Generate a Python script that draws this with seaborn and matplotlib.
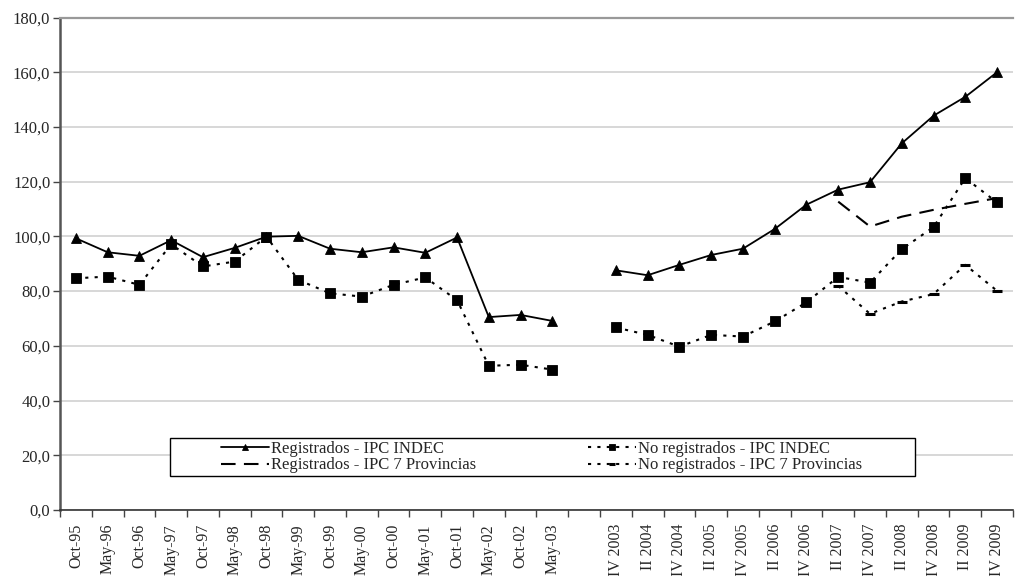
import numpy as np
import pandas as pd
import matplotlib
matplotlib.use("Agg")
import matplotlib.pyplot as plt
from matplotlib.patches import Rectangle
from matplotlib.ticker import FixedLocator, FuncFormatter
import seaborn as sns

# Period labels (the blank slot separates the two survey periods)
periodos = ["Oct-95", "May-96", "Oct-96", "May-97", "Oct-97", "May-98", "Oct-98",
            "May-99", "Oct-99", "May-00", "Oct-00", "May-01", "Oct-01", "May-02",
            "Oct-02", "May-03", "",
            "IV 2003", "II 2004", "IV 2004", "II 2005", "IV 2005", "II 2006",
            "IV 2006", "II 2007", "IV 2007", "II 2008", "IV 2008", "II 2009", "IV 2009"]

nan = np.nan
registrados_indec = [99.3, 94.2, 92.9, 98.6, 92.4, 95.8, 99.9, 100.2, 95.5, 94.2, 96.0,
                     94.0, 99.6, 70.5, 71.3, 69.1, nan,
                     87.6, 85.8, 89.6, 93.2, 95.5, 102.7, 111.6, 117.1, 119.8,
                     134.0, 144.1, 151.0, 160.0]
no_registrados_indec = [84.7, 85.3, 82.3, 97.1, 89.0, 90.8, 99.9, 84.1, 79.2, 78.0, 82.3,
                        85.0, 76.7, 52.7, 53.1, 51.3, nan,
                        66.7, 64.0, 59.7, 64.0, 63.4, 68.9, 75.9, 85.2, 83.1,
                        95.3, 103.4, 121.3, 112.4]
registrados_7prov = [nan] * 24 + [112.7, 103.6, 107.2, 109.7, 111.9, 114.0]
no_registrados_7prov = [nan] * 24 + [81.9, 71.7, 76.2, 78.9, 89.6, 80.1]

series = {
    "Registrados - IPC INDEC": registrados_indec,
    "Registrados - IPC 7 Provincias": registrados_7prov,
    "No registrados - IPC INDEC": no_registrados_indec,
    "No registrados - IPC 7 Provincias": no_registrados_7prov,
}

pos = np.arange(len(periodos))
tramo = np.where(pos < 16, 0, 1)
frames = []
for nombre, vals in series.items():
    frames.append(pd.DataFrame({"pos": pos, "valor": vals, "serie": nombre, "tramo": tramo}))
df = pd.concat(frames, ignore_index=True).dropna()

estilos = {
    "Registrados - IPC INDEC": dict(linestyle="-", marker="^", markersize=6.5,
                                    markeredgewidth=0.6, linewidth=1.3),
    "Registrados - IPC 7 Provincias": dict(linestyle=(0, (7, 4)), marker=None, linewidth=1.5),
    "No registrados - IPC INDEC": dict(linestyle=(0, (1.5, 3)), marker="s", markersize=6.5,
                                       markeredgewidth=0.6, linewidth=1.5),
    "No registrados - IPC 7 Provincias": dict(linestyle=(0, (1.5, 3)), marker="_", markersize=7,
                                              markeredgewidth=2.2, linewidth=1.5),
}

sns.set_theme(style="white")
plt.rcParams["font.family"] = ["Liberation Serif", "DejaVu Serif"]

fig = plt.figure(figsize=(10.17, 5.76), dpi=100)
ax = fig.add_axes([0.059, 0.1146, 0.937, 0.855])

handles = {}
for nombre in series:
    sub = df[df["serie"] == nombre]
    for t, seg in sub.groupby("tramo"):
        sns.lineplot(data=seg, x="pos", y="valor", ax=ax, color="black",
                     estimator=None, sort=False, legend=False,
                     markeredgecolor="black", markerfacecolor="black",
                     clip_on=False, **estilos[nombre])
        handles[nombre] = ax.lines[-1]

ax.set_xlim(-0.5, len(periodos) - 0.5)
ax.set_ylim(0, 180)
ax.set_yticks(np.arange(0, 181, 20))
ax.yaxis.set_major_formatter(FuncFormatter(lambda v, _: f"{v:.1f}".replace(".", ",")))
ax.set_xticks(pos)
ax.set_xticklabels(periodos, rotation=90)
ax.xaxis.set_minor_locator(FixedLocator(np.arange(-0.5, len(periodos), 1.0)))
ax.tick_params(axis="x", which="major", length=0, pad=10, labelsize=11.5)
ax.tick_params(axis="x", which="minor", length=5, width=1, color="#444444", direction="out", bottom=True)
ax.tick_params(axis="y", which="major", length=5, width=1, color="#444444", direction="out",
               left=True, labelsize=12, pad=2)
ax.set_xlabel("")
ax.set_ylabel("")

ax.grid(axis="y", color="#d4d4d4", linewidth=1.3)
ax.grid(axis="x", visible=False)
ax.set_axisbelow(True)
ax.spines["right"].set_visible(False)
ax.spines["top"].set_color("#999999")
ax.spines["top"].set_linewidth(1.6)
ax.spines["left"].set_color("#555555")
ax.spines["left"].set_linewidth(1.8)
ax.spines["bottom"].set_color("#333333")
ax.spines["bottom"].set_linewidth(1.2)

# Legend box with generous side margins
caja = (0.1154, 0.0691, 0.7817, 0.0772)
ax.add_patch(Rectangle(caja[:2], caja[2], caja[3], transform=ax.transAxes,
                       facecolor="white", edgecolor="black", linewidth=1.0, zorder=4))
orden = list(series.keys())
leg = ax.legend([handles[n] for n in orden], orden, ncol=2, loc="center",
                bbox_to_anchor=(0.169, caja[1], 0.6726, caja[3]), mode="expand",
                frameon=False, fontsize=12, handlelength=2.9, handletextpad=0.1,
                markerscale=0.6, borderpad=0.0, labelspacing=0.05, borderaxespad=0)
leg.set_zorder(5)

fig.savefig("out.png", dpi=100)
